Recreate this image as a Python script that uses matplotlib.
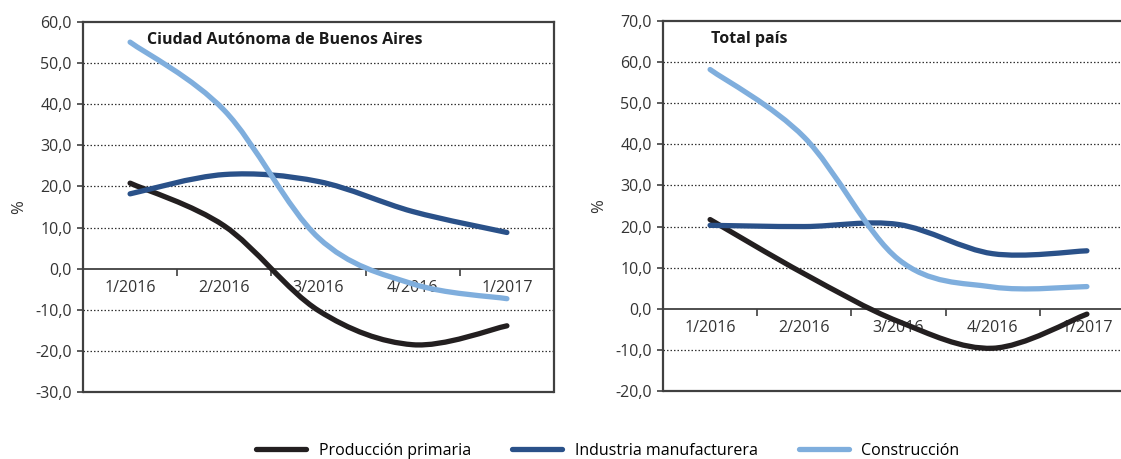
import matplotlib
matplotlib.use("Agg")
import matplotlib.pyplot as plt
from matplotlib.path import Path
from matplotlib.patches import PathPatch
from matplotlib.lines import Line2D
from matplotlib.ticker import FuncFormatter, FixedLocator

categories = ["1/2016", "2/2016", "3/2016", "4/2016", "1/2017"]
series_names = ["Producción primaria", "Industria manufacturera", "Construcción"]
colors = ["#231F20", "#2A5189", "#7FAEDD"]

caba_primaria = [20.8, 10.4, -10.2, -18.5, -13.9]
caba_industria = [18.2, 22.9, 21.2, 13.9, 8.8]
caba_construccion = [55.1, 38.5, 7.5, -3.7, -7.3]

pais_primaria = [21.7, 8.5, -3.1, -9.6, -1.3]
pais_industria = [20.3, 20.0, 20.5, 13.4, 14.1]
pais_construccion = [58.2, 41.7, 12.0, 5.3, 5.4]

caba_title = "Ciudad Autónoma de Buenos Aires"
pais_title = "Total país"
y_label = "%"

tick_font = ["Open Sans", "DejaVu Sans"]


def smooth_path(xs, ys):
    pts = list(zip(xs, ys))
    n = len(pts)
    verts = [pts[0]]
    codes = [Path.MOVETO]
    for i in range(n - 1):
        p0 = pts[i - 1] if i > 0 else pts[i]
        p1 = pts[i]
        p2 = pts[i + 1]
        p3 = pts[i + 2] if i + 2 < n else pts[i + 1]
        c1 = (p1[0] + (p2[0] - p0[0]) / 6.0, p1[1] + (p2[1] - p0[1]) / 6.0)
        c2 = (p2[0] - (p3[0] - p1[0]) / 6.0, p2[1] - (p3[1] - p1[1]) / 6.0)
        verts += [c1, c2, p2]
        codes += [Path.CURVE4] * 3
    return Path(verts, codes)


def draw_panel(ax, series, ylim, title, title_x):
    x = list(range(len(categories)))
    ax.set_xlim(-0.5, len(categories) - 0.5)
    ax.set_ylim(*ylim)
    ticks = list(range(ylim[0], ylim[1] + 1, 10))
    ax.yaxis.set_major_locator(FixedLocator(ticks))
    ax.yaxis.set_major_formatter(FuncFormatter(lambda v, p: f"{v:.1f}".replace(".", ",")))
    for t in ticks:
        if t not in (0, ylim[0], ylim[1]):
            ax.axhline(t, color="#333333", lw=0.9, ls=(0, (1.2, 1.6)), zorder=1)
    for s in ("left", "right", "top"):
        ax.spines[s].set_color("#404040")
        ax.spines[s].set_linewidth(1.6)
    ax.spines["bottom"].set_position(("data", 0))
    ax.spines["bottom"].set_color("#404040")
    ax.spines["bottom"].set_linewidth(1.3)
    ax.plot([0, 1], [0, 0], transform=ax.transAxes, color="#404040", lw=1.6,
            clip_on=False, zorder=3, solid_capstyle="butt")
    ax.set_xticks(x)
    ax.set_xticklabels(categories, fontfamily=tick_font, fontsize=11.5, color="#333333")
    ax.set_xticks([i - 0.5 for i in range(len(categories) + 1)], minor=True)
    ax.tick_params(axis="x", which="major", length=0, pad=8)
    ax.tick_params(axis="x", which="minor", length=5, width=1.2, color="#404040", direction="out")
    ax.tick_params(axis="y", length=4, width=1.2, color="#404040", direction="out", pad=4,
                   labelsize=11.5, labelcolor="#333333")
    for lab in ax.get_yticklabels():
        lab.set_fontfamily(tick_font)
    for vals, c in zip(series, colors):
        patch = PathPatch(smooth_path(x, vals), facecolor="none", edgecolor=c, lw=3.8,
                          capstyle="round", joinstyle="round", zorder=4)
        ax.add_patch(patch)
    ax.text(title_x, 0.951, title, transform=ax.transAxes, fontsize=11.5, fontweight="bold",
            fontfamily=tick_font, color="#1a1a1a", va="center", ha="left")
    ax.set_ylabel(y_label, fontfamily=tick_font, fontsize=12, color="#333333", labelpad=6)


fig = plt.figure(figsize=(11.21, 4.59), dpi=100)
W, H = 1121, 459
ax1 = fig.add_axes([83 / W, 67 / H, 471 / W, 370 / H])
ax2 = fig.add_axes([663 / W, 68 / H, 471 / W, 370 / H])

draw_panel(ax1, [caba_primaria, caba_industria, caba_construccion], (-30, 60), caba_title, 0.136)
draw_panel(ax2, [pais_primaria, pais_industria, pais_construccion], (-20, 70), pais_title, 0.102)

handles = [Line2D([], [], color=c, lw=3.8, solid_capstyle="round") for c in colors]
fig.legend(handles, series_names, loc="center", bbox_to_anchor=(608 / W, 1 - 451 / H), ncol=3,
           frameon=False, handlelength=3.1, columnspacing=2.6, handletextpad=0.8,
           prop={"family": tick_font, "size": 11.5})

fig.savefig("out.png", dpi=100)
